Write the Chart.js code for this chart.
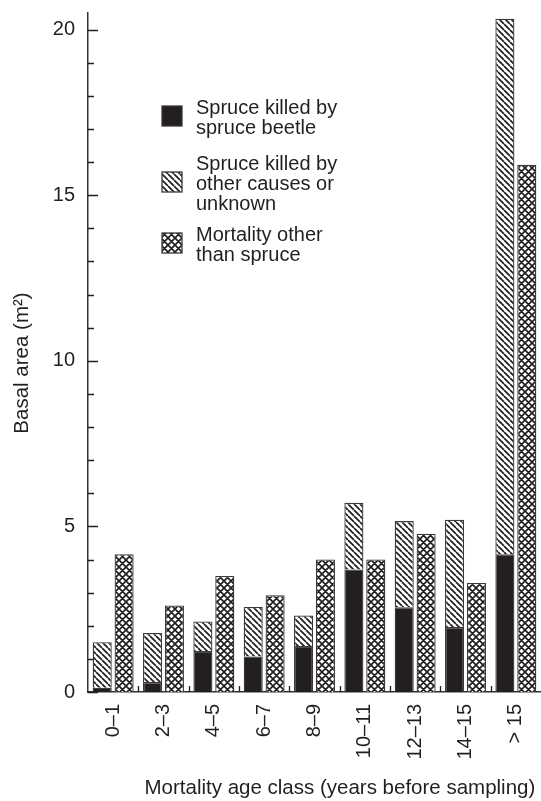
<!DOCTYPE html>
<html>
<head>
<meta charset="utf-8">
<script src="https://cdn.jsdelivr.net/npm/chart.js@4.4.1/dist/chart.umd.min.js"></script>
<style>
html,body{margin:0;padding:0;background:#fff}
</style>
</head>
<body>
<canvas id="mortalityChart" width="541" height="801"></canvas>
<script>

const ageClasses = ["0\u20131", "2\u20133", "4\u20135", "6\u20137", "8\u20139", "10\u201311", "12\u201313", "14\u201315", "> 15"]
const beetleKilled = [0.13, 0.3, 1.24, 1.07, 1.39, 3.7, 2.56, 1.96, 4.16]
const otherCauses = [1.37, 1.48, 0.89, 1.5, 0.92, 2.01, 2.6, 3.24, 16.17]
const nonSpruce = [4.16, 2.61, 3.5, 2.92, 4.0, 4.0, 4.78, 3.29, 15.92]
const yMajorTicks = [0, 5, 10, 15, 20]
const yMinorStep = 1

const ink = "#231f20"
const fontName = "'Liberation Sans', Arial, sans-serif"

function makePattern(type, size){
    const c = document.createElement("canvas")
    c.width = size
    c.height = size
    const ctx = c.getContext("2d")
    ctx.fillStyle = "#fff"
    ctx.fillRect(0, 0, size, size)
    ctx.strokeStyle = ink
    ctx.lineWidth = 1.7
    ctx.beginPath()
    for(let k = -size; k <= size; k += size){
        ctx.moveTo(k, 0)
        ctx.lineTo(k + size, size)
        if(type === "cross"){
            ctx.moveTo(k + size, 0)
            ctx.lineTo(k, size)
        }
    }
    ctx.stroke()
    return ctx.createPattern(c, "repeat")
}

const hatch = makePattern("hatch", 6)
const crossHatch = makePattern("cross", 7)

// tick marks point into the plot, so draw them by hand from the scales
const innerTicks = {
    id: "innerTicks",
    beforeDatasetsDraw(chart){
        const ctx = chart.ctx
        const y = chart.scales.y
        const x = chart.scales.x
        const left = chart.chartArea.left
        const bottom = chart.chartArea.bottom
        ctx.save()
        ctx.strokeStyle = ink
        ctx.lineWidth = 1.3
        ctx.beginPath()
        y.ticks.forEach(function(t){
            const py = Math.round(y.getPixelForValue(t.value)) + 0.5
            const len = yMajorTicks.includes(t.value) ? 10 : 6
            ctx.moveTo(left, py)
            ctx.lineTo(left + len, py)
        })
        for(let i = 0; i < ageClasses.length - 1; i++){
            const px = Math.round((x.getPixelForValue(i) + x.getPixelForValue(i + 1)) / 2) + 0.5
            ctx.moveTo(px, bottom)
            ctx.lineTo(px, bottom - 6)
        }
        ctx.stroke()
        ctx.restore()
    }
}

const legendBoxes = {
    id: "legendBoxes",
    afterDraw(chart){
        const ctx = chart.ctx
        const items = [
            {fill: ink, top: 106, lines: ["Spruce killed by", "spruce beetle"], base: 114},
            {fill: hatch, top: 172, lines: ["Spruce killed by", "other causes or", "unknown"], base: 170},
            {fill: crossHatch, top: 233, lines: ["Mortality other", "than spruce"], base: 241}
        ]
        ctx.save()
        items.forEach(function(item){
            ctx.fillStyle = item.fill
            ctx.fillRect(162, item.top, 20, 20)
            ctx.strokeStyle = "#3a3a3a"
            ctx.lineWidth = 1.3
            ctx.strokeRect(162, item.top, 20, 20)
            ctx.fillStyle = ink
            ctx.font = "20px " + fontName
            ctx.textBaseline = "alphabetic"
            item.lines.forEach(function(line, n){
                ctx.fillText(line, 196, item.base + n * 20)
            })
        })

        // y axis title
        ctx.translate(22, 363)
        ctx.rotate(-Math.PI / 2)
        ctx.textAlign = "center"
        ctx.textBaseline = "middle"
        ctx.font = "20.5px " + fontName
        ctx.fillText("Basal area (m\u00b2)", 0, 0)
        ctx.restore()
    }
}

new Chart(document.getElementById("mortalityChart"), {
    type: "bar",
    data: {
        labels: ageClasses,
        datasets: [
            {
                label: "Spruce killed by spruce beetle",
                data: beetleKilled,
                backgroundColor: ink,
                borderColor: "#3a3a3a",
                borderWidth: 1.3,
                stack: "spruce"
            },
            {
                label: "Spruce killed by other causes or unknown",
                data: otherCauses,
                backgroundColor: hatch,
                borderColor: "#3a3a3a",
                borderWidth: 1.3,
                stack: "spruce"
            },
            {
                label: "Mortality other than spruce",
                data: nonSpruce,
                backgroundColor: crossHatch,
                borderColor: "#3a3a3a",
                borderWidth: 1.3,
                stack: "other"
            }
        ]
    },
    options: {
        responsive: false,
        animation: false,
        devicePixelRatio: 1,
        categoryPercentage: 0.87,
        barPercentage: 0.87,
        layout: {padding: {top: 13, right: 0, left: 0, bottom: 0}},
        plugins: {
            legend: {display: false},
            tooltip: {enabled: false}
        },
        scales: {
            x: {
                stacked: true,
                grid: {display: false, drawTicks: false},
                border: {display: true, color: "#333", width: 1.5},
                ticks: {
                    color: ink,
                    font: {family: fontName, size: 20},
                    maxRotation: 90,
                    minRotation: 90,
                    autoSkip: false,
                    padding: 12
                },
                title: {
                    display: true,
                    text: "Mortality age class (years before sampling) ",
                    color: ink,
                    align: "end",
                    font: {family: fontName, size: 20.5},
                    padding: {top: 0, bottom: 0}
                },
                afterFit: function(scale){
                    scale.height = 109
                    scale.paddingLeft = 0
                    scale.paddingRight = 0
                }
            },
            y: {
                stacked: true,
                min: 0,
                max: 20.5,
                grid: {display: false, drawTicks: false},
                border: {display: true, color: "#333", width: 1.5},
                afterBuildTicks: function(scale){
                    const list = []
                    for(let v = 0; v <= 20; v += yMinorStep) list.push({value: v})
                    scale.ticks = list
                },
                ticks: {
                    autoSkip: false,
                    color: ink,
                    font: {family: fontName, size: 20},
                    padding: 13,
                    callback: function(value){
                        return yMajorTicks.includes(value) ? value : ""
                    }
                },
                title: {display: false},
                afterFit: function(scale){
                    scale.width = 88
                    scale.paddingTop = 0
                    scale.paddingBottom = 0
                }
            }
        }
    },
    plugins: [innerTicks, legendBoxes]
})

</script>
</body>
</html>
